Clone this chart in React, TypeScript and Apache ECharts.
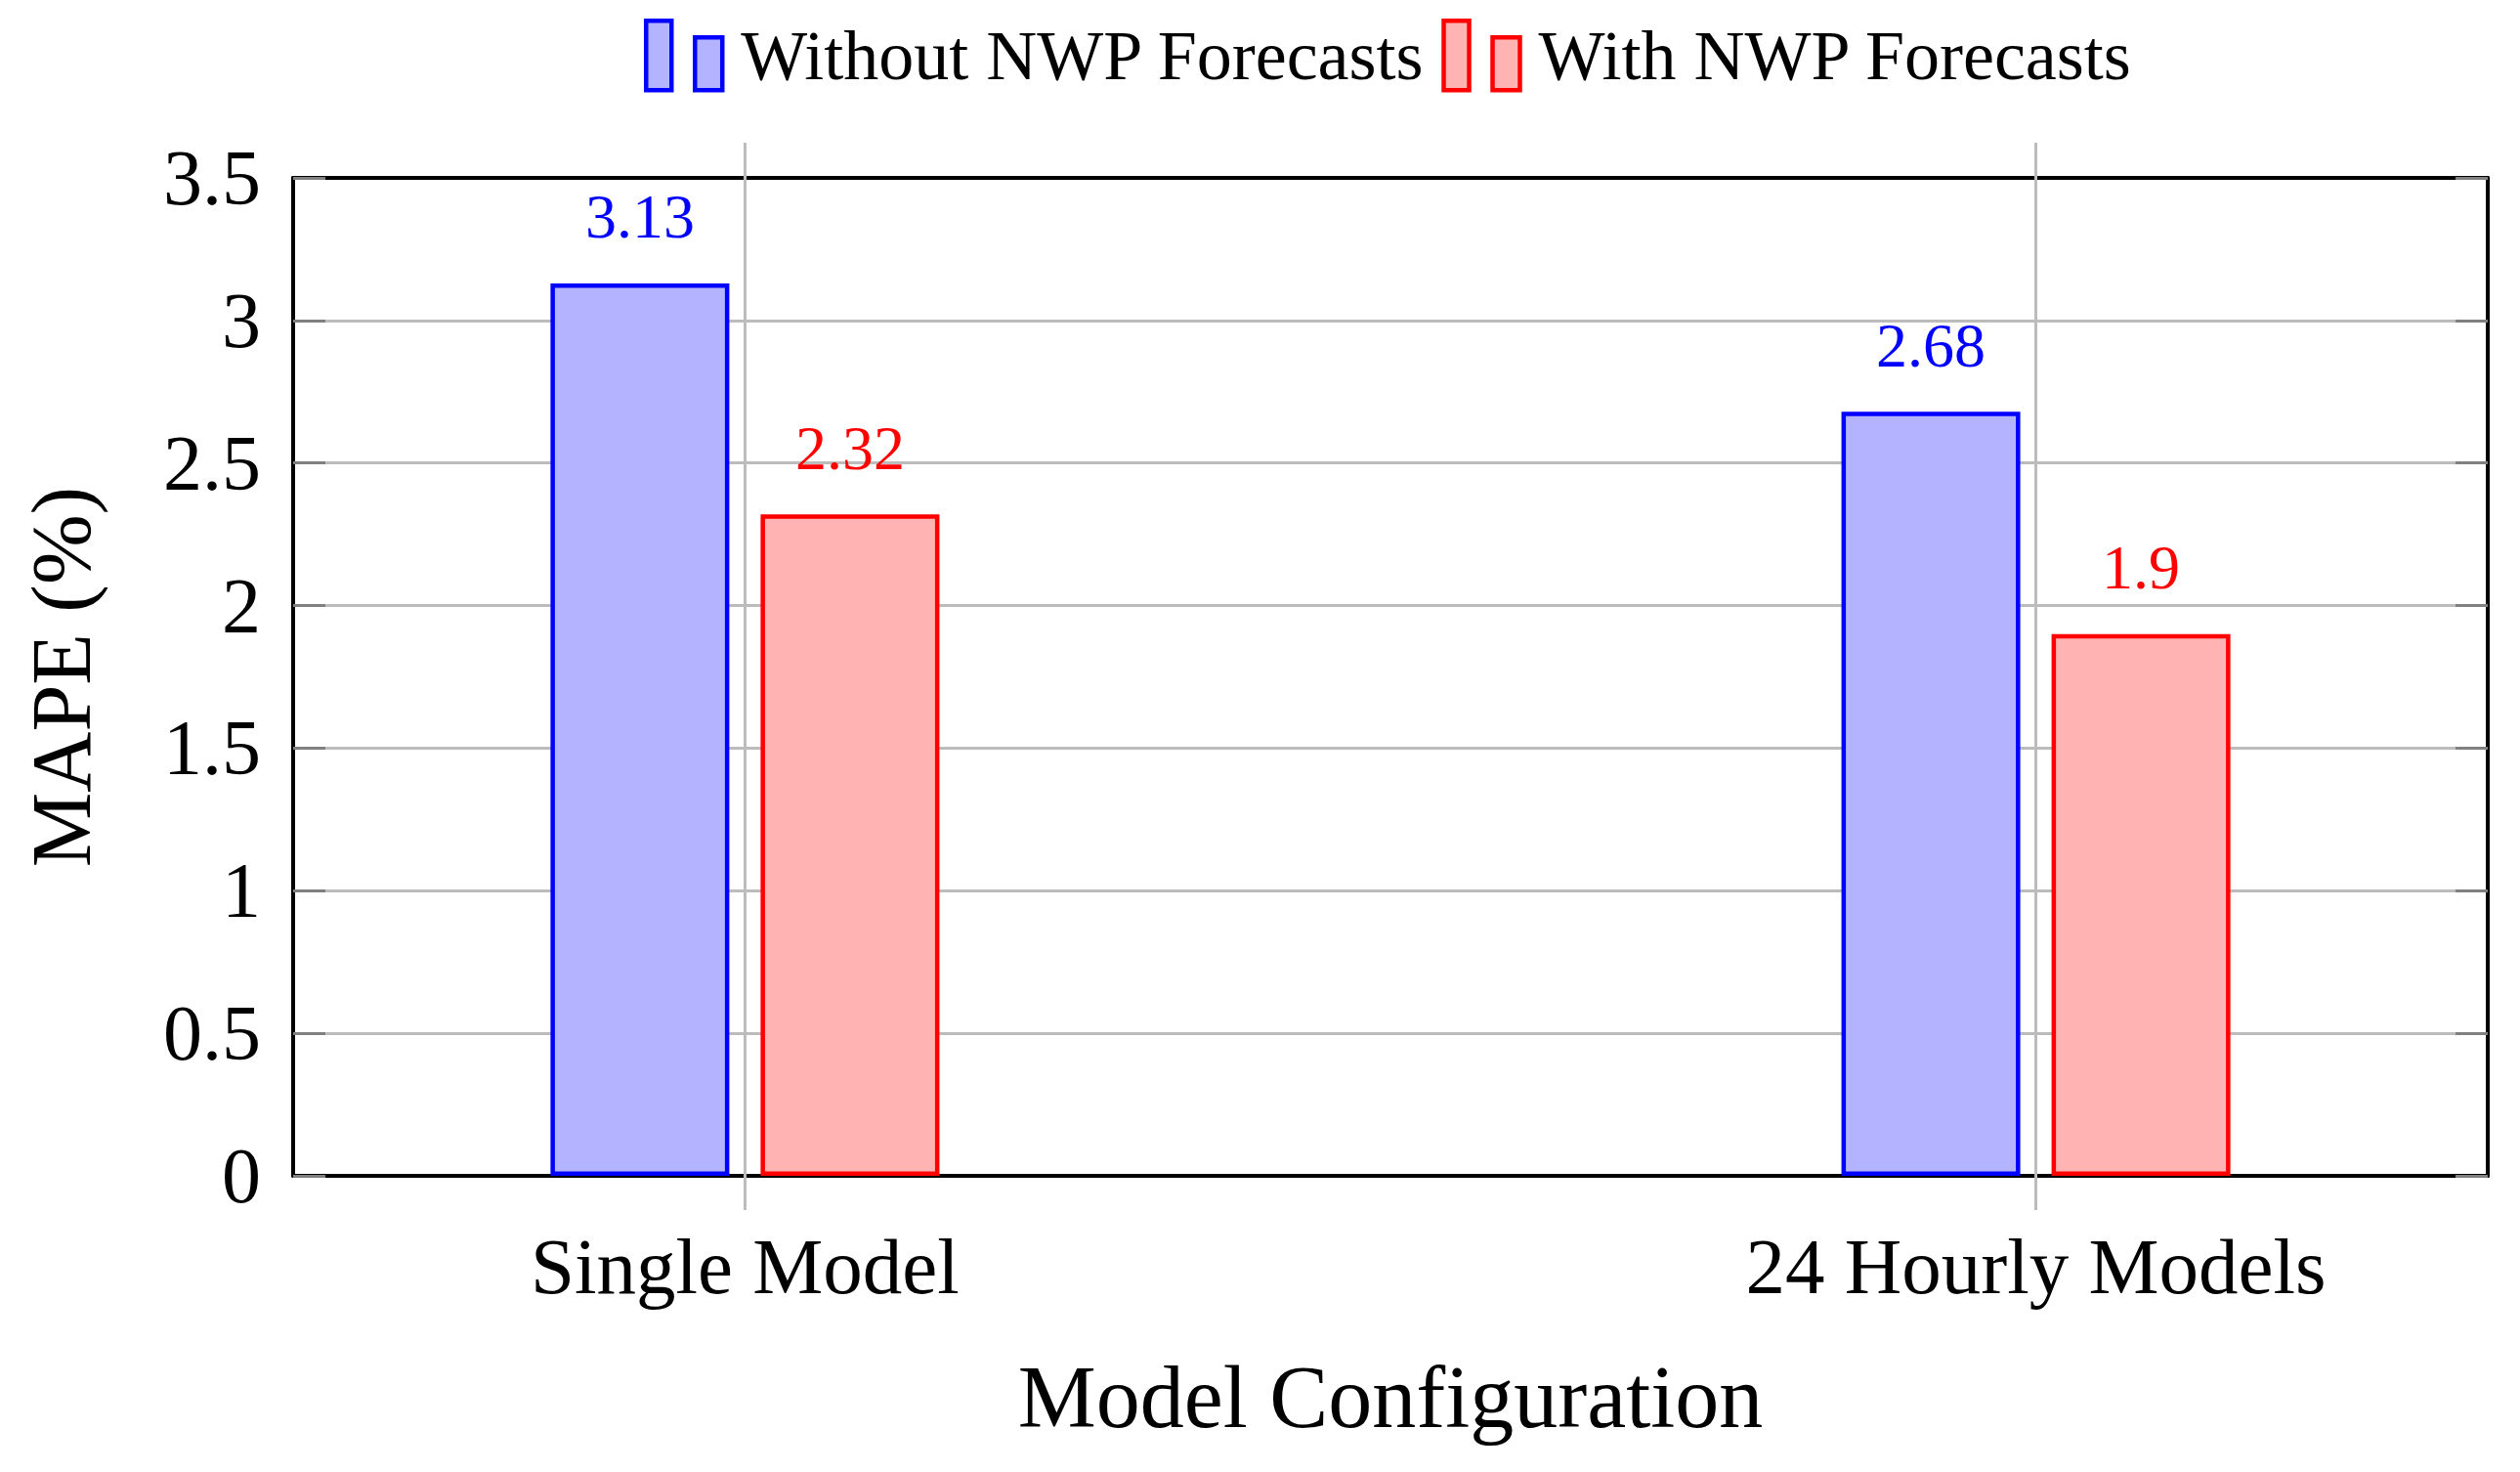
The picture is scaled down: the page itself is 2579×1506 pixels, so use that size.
import React, { useEffect, useRef } from "react";
import * as echarts from "echarts";

const categories = ["Single Model", "24 Hourly Models"];
const categoryPositions = [0, 1];
const withoutNWP = [3.13, 2.68];
const withNWP = [2.32, 1.9];
const seriesNames = ["Without NWP Forecasts", "With NWP Forecasts"];
const yTicks = { min: 0, max: 3.5, interval: 0.5 };

const FONT = "'Liberation Serif', 'DejaVu Serif', serif";
const GRID_GRAY = "#bcbcbc";
const FRAME = { show: true, onZero: false, lineStyle: { color: "#000", width: 4 } };

export default function App() {
  const ref = useRef<HTMLDivElement>(null);
  useEffect(() => {
    if (!ref.current) return;
    const chart = echarts.init(ref.current, undefined, { renderer: "svg" });
    const legendIcon = "path://M0 0H26V71H0Z M50 17H78V71H50Z";
    const mk = (vals: number[]) => vals.map((v, i) => [categoryPositions[i], v]);
    const barLabel = (color: string) => ({
      show: true,
      position: "top",
      distance: 36,
      formatter: (p: any) => String(p.value[1]),
      fontFamily: FONT,
      fontSize: 64,
      color,
    });
    chart.setOption({
      animation: false,
      backgroundColor: "#ffffff",
      legend: {
        left: 654,
        top: 14,
        itemWidth: 78,
        itemHeight: 71,
        itemGap: 16,
        icon: legendIcon,
        itemStyle: { borderWidth: 4.5 },
        textStyle: { fontFamily: FONT, fontSize: 72, color: "#000", padding: [36, 0, 0, 14] },
        data: seriesNames,
      },
      grid: {
        left: 300,
        right: 33,
        top: 182,
        bottom: 303,
        show: false,
      },
      xAxis: [
        {
          type: "value",
          min: -0.35,
          max: 1.35,
          position: "bottom",
          axisLine: FRAME,
          splitLine: { show: false },
          axisTick: {
            show: true,
            customValues: categoryPositions,
            inside: false,
            length: 35,
            lineStyle: { color: GRID_GRAY, width: 3 },
          },
          axisLabel: {
            customValues: categoryPositions,
            formatter: (v: number) => categories[Math.round(v)] ?? "",
            fontFamily: FONT,
            fontSize: 81,
            lineHeight: 80,
            color: "#000",
            margin: 53,
          },
          name: "Model Configuration",
          nameLocation: "middle",
          nameGap: 181,
          nameTextStyle: { fontFamily: FONT, fontSize: 90, color: "#000", lineHeight: 90 },
        },
        {
          type: "value",
          min: -0.35,
          max: 1.35,
          position: "top",
          axisLine: FRAME,
          splitLine: { show: false },
          axisLabel: { show: false },
          axisTick: {
            show: true,
            customValues: categoryPositions,
            inside: false,
            length: 36,
            lineStyle: { color: GRID_GRAY, width: 3 },
          },
        },
      ],
      yAxis: [
        {
          type: "value",
          min: yTicks.min,
          max: yTicks.max,
          interval: yTicks.interval,
          position: "left",
          axisLine: FRAME,
          axisTick: { show: true, inside: true, length: 33, lineStyle: { color: "#808080", width: 3 } },
          splitLine: {
            show: true,
            showMinLine: false,
            showMaxLine: false,
            lineStyle: { color: GRID_GRAY, width: 3 },
          },
          axisLabel: { fontFamily: FONT, fontSize: 80, color: "#000", margin: 33 },
          name: "MAPE (%)",
          nameLocation: "middle",
          nameGap: 194,
          nameTextStyle: { fontFamily: FONT, fontSize: 86, color: "#000", lineHeight: 86 },
        },
        {
          type: "value",
          min: yTicks.min,
          max: yTicks.max,
          interval: yTicks.interval,
          position: "right",
          axisLine: FRAME,
          axisTick: { show: true, inside: true, length: 33, lineStyle: { color: "#808080", width: 3 } },
          splitLine: { show: false },
          axisLabel: { show: false },
        },
      ],
      series: [
        {
          name: "categoryGrid",
          type: "line",
          xAxisIndex: 0,
          yAxisIndex: 0,
          data: [],
          silent: true,
          z: 1,
          markLine: {
            silent: true,
            symbol: "none",
            label: { show: false },
            lineStyle: { color: GRID_GRAY, width: 3, type: "solid" },
            data: categoryPositions.map((p) => ({ xAxis: p })),
          },
        },
        {
          name: seriesNames[0],
          type: "bar",
          xAxisIndex: 0,
          yAxisIndex: 0,
          data: mk(withoutNWP),
          barWidth: 183,
          barGap: "17.5%",
          itemStyle: { color: "#b3b3ff", borderColor: "#0000ff", borderWidth: 4.5 },
          label: barLabel("#0000ff"),
        },
        {
          name: seriesNames[1],
          type: "bar",
          xAxisIndex: 0,
          yAxisIndex: 0,
          data: mk(withNWP),
          barWidth: 183,
          barGap: "17.5%",
          itemStyle: { color: "#ffb3b3", borderColor: "#ff0000", borderWidth: 4.5 },
          label: barLabel("#ff0000"),
        },
      ],
    });
    return () => chart.dispose();
  }, []);
  return (
    <div
      ref={ref}
      style={{ position: "fixed", left: 0, top: 0, width: "2579px", height: "1506px", background: "#fff" }}
    />
  );
}
